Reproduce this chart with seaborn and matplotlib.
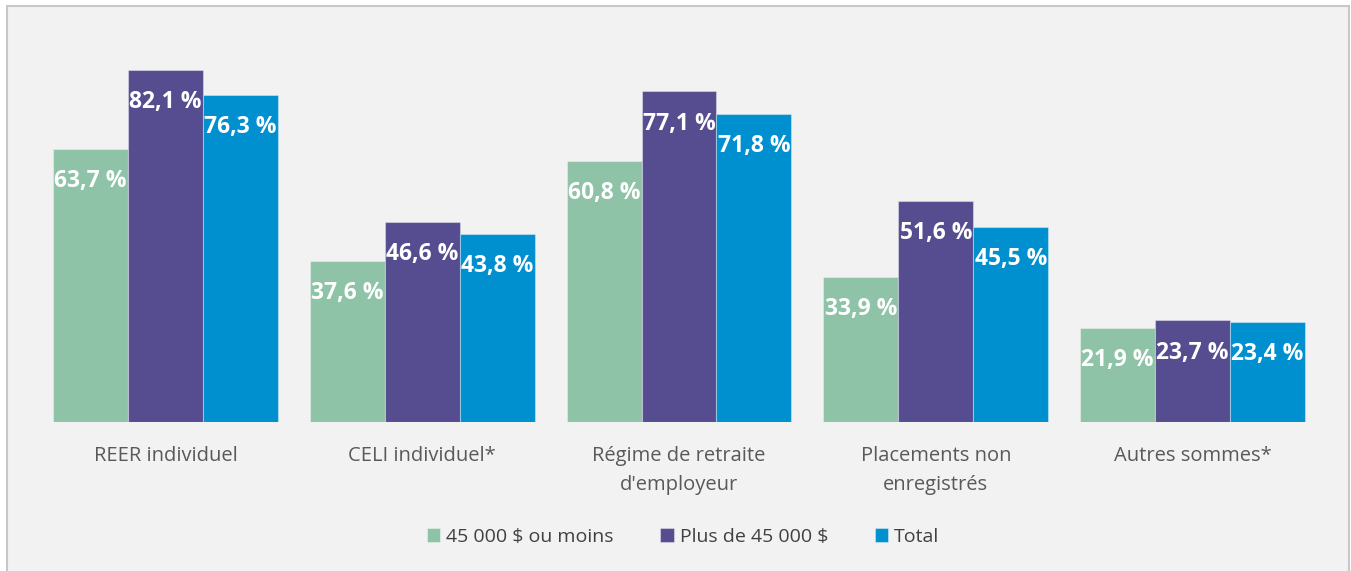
import matplotlib
matplotlib.use("Agg")
import matplotlib.pyplot as plt
from matplotlib.patches import Rectangle
import seaborn as sns
import pandas as pd

categories = ["REER individuel", "CELI individuel*", "Régime de retraite\nd'employeur",
              "Placements non\nenregistrés", "Autres sommes*"]
series_names = ["45 000 $ ou moins", "Plus de 45 000 $", "Total"]
low_income = [63.7, 37.6, 60.8, 33.9, 21.9]
high_income = [82.1, 46.6, 77.1, 51.6, 23.7]
total = [76.3, 43.8, 71.8, 45.5, 23.4]
colors = ["#8EC3A8", "#554D8F", "#008FCF"]

rows = []
for name, vals in zip(series_names, [low_income, high_income, total]):
    for cat, v in zip(categories, vals):
        rows.append({"cat": cat, "serie": name, "val": v})
df = pd.DataFrame(rows)

sns.set_theme(style="white")
plt.rcParams["font.family"] = ["Open Sans", "DejaVu Sans"]

W, H = 1351, 571
fig = plt.figure(figsize=(W / 100, H / 100), dpi=100)
fig.patch.set_facecolor("white")
fig.patches.append(Rectangle((7 / W, -0.02), (1349 - 7) / W, (571 - 6) / H + 0.02,
                             transform=fig.transFigure, facecolor="#F2F2F2",
                             edgecolor="#C8C8C8", linewidth=1.5, zorder=-10))

ax = fig.add_axes([37 / W, (H - 422) / H, (1321 - 37) / W, 386 / H])
ax.set_facecolor("none")

sns.barplot(data=df, x="cat", y="val", hue="serie", order=categories,
            hue_order=series_names, palette=colors, width=0.876, gap=0,
            saturation=1, ax=ax, legend=True, errorbar=None,
            edgecolor=(1, 1, 1, 0.35), linewidth=0.8)

ax.set_ylim(0, 90)
ax.set_xlim(-0.5, 4.5)
ax.set_xlabel("")
ax.set_ylabel("")
ax.set_yticks([])
for s in ax.spines.values():
    s.set_visible(False)
ax.tick_params(axis="x", length=0, pad=17, labelsize=14.5, labelcolor="#595959")
for t in ax.get_xticklabels():
    t.set_linespacing(1.62)

for cont, vals in zip(ax.containers, [low_income, high_income, total]):
    for rect, v in zip(cont, vals):
        ax.annotate(f"{v:.1f}".replace(".", ",") + " %",
                    (rect.get_x() + rect.get_width() / 2, rect.get_height()),
                    xytext=(0, -27.5), textcoords="offset points",
                    ha="center", va="baseline", color="white",
                    fontsize=16.5, fontweight="bold")

handles, labels = ax.get_legend_handles_labels()
ax.get_legend().remove()
fig.legend(handles, labels, loc="center", bbox_to_anchor=(0.5056, (H - 537) / H),
           ncol=3, frameon=False, fontsize=14, handlelength=0.7, handleheight=0.7,
           handletextpad=0.3, columnspacing=2.4, labelcolor="#404040")

fig.savefig("out.png", dpi=100)
